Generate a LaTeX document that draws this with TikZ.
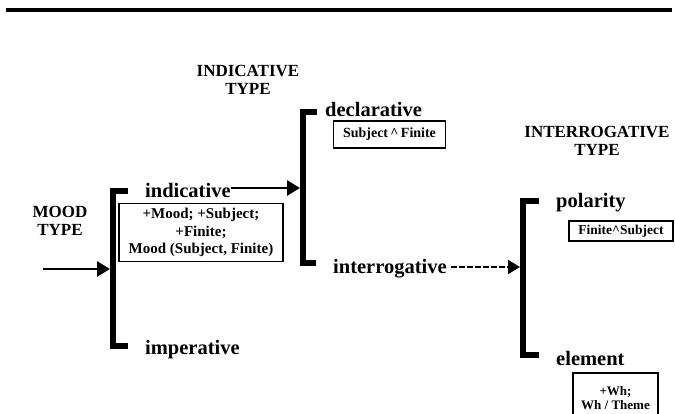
\documentclass[tikz,border=0pt]{standalone}
\usepackage{fontspec}
\setmainfont{Liberation Serif}
\usetikzlibrary{arrows.meta}
\begin{document}
\begin{tikzpicture}[x=1pt,y=-1pt,
  lab/.style={font=\fontsize{20.5}{22}\selectfont\bfseries, inner sep=0pt, anchor=base west},
  captxt/.style={font=\fontsize{17}{17.5}\selectfont\bfseries, align=center, inner sep=0pt},
  feat/.style={draw, line width=1.6pt, align=center, inner sep=0pt},
  brk/.style={line width=6pt, line cap=butt, line join=miter},
  arr/.style={line width=2.8pt, -{Triangle[length=13pt,width=15pt]}},
  darr/.style={line width=2pt, dash pattern=on 6pt off 2pt, -{Triangle[length=12pt,width=14pt]}}
]
\useasboundingbox (0,0) rectangle (675,413);
% top rule
\draw[line width=4pt] (6,10) -- (672,10);

% type headings
\node[captxt] (moodtype) at (60,221) {MOOD\\TYPE};
\node[captxt] (indtype) at (248,80) {INDICATIVE\\TYPE};
\node[captxt] (inttype) at (597,141) {INTERROGATIVE\\TYPE};

% brackets
\draw[brk] (128,191) -- (113,191) -- (113,346) -- (128,346);
\draw[brk] (317,112) -- (303,112) -- (303,263) -- (316,263);
\draw[brk] (539,201) -- (523,201) -- (523,355) -- (539,355);

% bracket entry points
\coordinate (b1in) at (110,269);
\coordinate (b2in) at (300,188);
\coordinate (b3in) at (520,267);
\coordinate (start) at (43,269);

% terms
\node[lab] (indicative) at (145,197) {indicative};
\node[lab] (imperative) at (145,354) {imperative};
\node[lab] (declarative) at (325,116) {declarative};
\node[lab] (interrogative) at (333,273) {interrogative};
\node[lab] (polarity) at (556,207) {polarity};
\node[lab] (element) at (556,365) {element};

% feature boxes
\node[feat, minimum width=164pt, minimum height=58pt,
      font=\fontsize{15}{17.5}\selectfont\bfseries] (indbox) at (201,232.5)
  {+Mood; +Subject;\\+Finite;\\Mood (Subject, Finite)};
\node[feat, minimum width=112pt, minimum height=27pt,
      font=\fontsize{14}{16}\selectfont\bfseries] (decbox) at (389.5,134.5)
  {Subject\,\textasciicircum\,Finite};
\node[feat, minimum width=104pt, minimum height=20pt,
      font=\fontsize{13.5}{15}\selectfont\bfseries] (polbox) at (621,231)
  {Finite\textasciicircum Subject};
\node[feat, minimum width=85pt, minimum height=50pt, anchor=north,
      font=\fontsize{13}{14}\selectfont\bfseries] (elbox) at (615.5,372)
  {+Wh;\\Wh / Theme};

% arrows
\draw[arr] (start) -- (b1in);
\draw[arr] (indicative.east |- b2in) -- (b2in);
\draw[darr] ([xshift=4pt]interrogative.east |- b3in) -- (b3in);
\end{tikzpicture}
\end{document}
